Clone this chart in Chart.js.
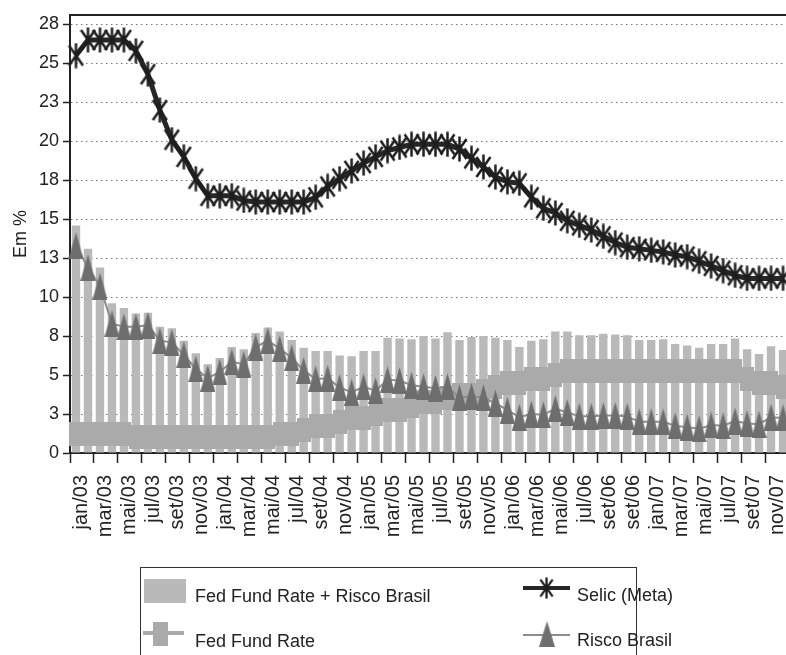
<!DOCTYPE html>
<html>
<head>
<meta charset="utf-8">
<script src="https://cdn.jsdelivr.net/npm/chart.js@4.4.1/dist/chart.umd.min.js"></script>
<style>
    html, body { margin: 0; padding: 0; background: #fff; }
    #wrap { width: 786px; height: 655px; overflow: hidden; position: relative; }
    canvas { display: block; }
</style>
</head>
<body>
<div id="wrap"><canvas id="myChart" width="800" height="655"></canvas></div>
<script>
// months jan/03 .. dez/07
const monthNames = ["jan", "fev", "mar", "abr", "mai", "jun", "jul", "ago", "set", "out", "nov", "dez"];
const years = ["03", "04", "05", "06", "07"];
const months = [];
years.forEach((y) => monthNames.forEach((m) => months.push(m + "/" + y)));

// labels printed under the axis (one per two months, as in the original)
const tickLabels = [
    "jan/03", "mar/03", "mai/03", "jul/03", "set/03", "nov/03",
    "jan/04", "mar/04", "mai/04", "jul/04", "set/04", "nov/04",
    "jan/05", "mar/05", "mai/05", "jul/05", "set/05", "nov/05",
    "jan/06", "mar/06", "mai/06", "jul/06", "set/06", "set/06",
    "jan/07", "mar/07", "mai/07", "jul/07", "set/07", "nov/07",
];

const yTicks = [0, 2.5, 5, 7.5, 10, 12.5, 15, 17.5, 20, 22.5, 25, 27.5];

const selic = [
    25.5, 26.5, 26.5, 26.5, 26.5, 25.8, 24.3, 22.0, 20.1, 19.0, 17.6, 16.5,
    16.5, 16.5, 16.2, 16.1, 16.1, 16.1, 16.1, 16.1, 16.4, 17.1, 17.6, 18.1,
    18.6, 19.0, 19.4, 19.6, 19.8, 19.8, 19.8, 19.8, 19.5, 18.9, 18.35, 17.7,
    17.4, 17.3, 16.4, 15.7, 15.4, 14.9, 14.6, 14.3, 13.9, 13.5, 13.2, 13.1,
    13.0, 12.9, 12.7, 12.6, 12.3, 12.0, 11.7, 11.4, 11.2, 11.2, 11.2, 11.2,
];

const fedFundRate = [
    1.25, 1.25, 1.25, 1.25, 1.25, 1.0, 1.0, 1.0, 1.0, 1.0, 1.0, 1.0,
    1.0, 1.0, 1.0, 1.0, 1.0, 1.25, 1.25, 1.5, 1.75, 1.75, 2.0, 2.25,
    2.25, 2.5, 2.75, 2.75, 3.0, 3.25, 3.25, 3.5, 3.75, 3.75, 4.0, 4.25,
    4.5, 4.5, 4.75, 4.75, 5.0, 5.25, 5.25, 5.25, 5.25, 5.25, 5.25, 5.25,
    5.25, 5.25, 5.25, 5.25, 5.25, 5.25, 5.25, 5.25, 4.75, 4.5, 4.5, 4.25,
];

const riscoBrasil = [
    13.3, 11.9, 10.7, 8.3, 8.1, 8.1, 8.2, 7.2, 7.1, 6.3, 5.4, 4.8,
    5.2, 5.85, 5.7, 6.8, 7.2, 6.7, 6.1, 5.3, 4.75, 4.8, 4.2, 3.9,
    4.25, 4.0, 4.7, 4.65, 4.35, 4.25, 4.15, 4.25, 3.55, 3.65, 3.55, 3.2,
    2.75, 2.3, 2.5, 2.45, 2.85, 2.6, 2.35, 2.35, 2.4, 2.4, 2.35, 2.0,
    2.0, 2.0, 1.75, 1.65, 1.55, 1.8, 1.75, 2.05, 1.9, 1.85, 2.3, 2.25,
];

const fedMaisRisco = [
    14.6, 13.1, 11.9, 9.6, 9.3, 8.95, 9.0, 8.1, 8.0, 7.2, 6.4, 5.7,
    6.1, 6.8, 6.65, 7.7, 8.05, 7.8, 7.25, 6.75, 6.55, 6.55, 6.25, 6.2,
    6.55, 6.55, 7.4, 7.35, 7.3, 7.5, 7.35, 7.75, 7.25, 7.45, 7.5, 7.4,
    7.25, 6.8, 7.2, 7.3, 7.8, 7.8, 7.55, 7.55, 7.65, 7.6, 7.55, 7.25,
    7.25, 7.3, 7.0, 6.9, 6.75, 7.0, 7.0, 7.35, 6.65, 6.35, 6.85, 6.6,
];

const FONT = "'Liberation Sans', Arial, sans-serif";
const INK = "#222222";
const BAR_GREY = "#b9b9b9";
const FED_GREY = "#aaaaaa";
const RISCO_GREY = "#6e6e6e";

Chart.defaults.font.family = FONT;
Chart.defaults.color = INK;

// marker images
function makeMarker(w, h, drawFn) {
    const c = document.createElement("canvas");
    c.width = w;
    c.height = h;
    drawFn(c.getContext("2d"), w, h);
    return c;
}

const starMarker = makeMarker(17, 26, (g, w, h) => {
    g.strokeStyle = "#1e1e1e";
    g.lineWidth = 2.5;
    g.beginPath();
    g.moveTo(w / 2, 0.5);
    g.lineTo(w / 2, h - 0.5);
    g.moveTo(1.5, 3);
    g.lineTo(w - 1.5, h - 3);
    g.moveTo(w - 1.5, 3);
    g.lineTo(1.5, h - 3);
    g.stroke();
});

const triMarker = makeMarker(15, 27, (g, w, h) => {
    g.fillStyle = RISCO_GREY;
    g.beginPath();
    g.moveTo(w / 2, 0);
    g.lineTo(w, h);
    g.lineTo(0, h);
    g.closePath();
    g.fill();
});

const fedMarker = makeMarker(14, 24, (g, w, h) => {
    g.fillStyle = FED_GREY;
    g.fillRect(0, 0, w, h);
});

// top frame line + boxed legend in two columns
const frameAndLegend = {
    id: "frameAndLegend",
    afterDraw(chart) {
        const g = chart.ctx;
        const a = chart.chartArea;
        g.save();
        g.strokeStyle = INK;
        g.lineWidth = 2;
        g.beginPath();
        g.moveTo(a.left, a.top);
        g.lineTo(a.right, a.top);
        g.stroke();

        g.strokeStyle = "#333";
        g.lineWidth = 1;
        g.strokeRect(140.5, 567.5, 496, 120);

        g.font = "18px " + FONT;
        g.fillStyle = INK;
        g.textBaseline = "middle";
        g.textAlign = "left";

        // Fed Fund Rate + Risco Brasil
        g.fillStyle = BAR_GREY;
        g.fillRect(144, 579, 42, 24);
        g.fillStyle = INK;
        g.fillText("Fed Fund Rate + Risco Brasil", 195, 597);

        // Fed Fund Rate
        g.strokeStyle = FED_GREY;
        g.lineWidth = 4;
        g.beginPath();
        g.moveTo(143, 633);
        g.lineTo(184, 633);
        g.stroke();
        g.drawImage(fedMarker, 153, 622, 15, 24);
        g.fillText("Fed Fund Rate", 195, 642);

        // Selic (Meta)
        g.strokeStyle = "#262626";
        g.lineWidth = 4;
        g.beginPath();
        g.moveTo(523, 588);
        g.lineTo(570, 588);
        g.stroke();
        g.drawImage(starMarker, 539, 577, 15, 22);
        g.fillText("Selic (Meta)", 577, 596);

        // Risco Brasil
        g.strokeStyle = "#8c8c8c";
        g.lineWidth = 2;
        g.beginPath();
        g.moveTo(523, 635);
        g.lineTo(570, 635);
        g.stroke();
        g.drawImage(triMarker, 539, 621, 16, 26);
        g.fillText("Risco Brasil", 577, 641);
        g.restore();
    },
};

const ctx = document.getElementById("myChart");

new Chart(ctx, {
    data: {
        labels: months,
        datasets: [
            {
                type: "bar",
                label: "Fed Fund Rate + Risco Brasil",
                data: fedMaisRisco,
                backgroundColor: BAR_GREY,
                barPercentage: 0.7,
                categoryPercentage: 1,
                order: 4,
            },
            {
                type: "line",
                label: "Fed Fund Rate",
                data: fedFundRate,
                borderColor: FED_GREY,
                borderWidth: 6,
                pointStyle: fedMarker,
                pointRadius: 5,
                order: 3,
            },
            {
                type: "line",
                label: "Risco Brasil",
                data: riscoBrasil,
                borderColor: "#8c8c8c",
                borderWidth: 2,
                pointStyle: triMarker,
                pointRadius: 5,
                order: 2,
            },
            {
                type: "line",
                label: "Selic (Meta)",
                data: selic,
                borderColor: "#262626",
                borderWidth: 5,
                pointStyle: starMarker,
                pointRadius: 5,
                order: 1,
            },
        ],
    },
    options: {
        responsive: false,
        animation: false,
        layout: { padding: { top: 15, right: 8, left: 0, bottom: 0 } },
        plugins: {
            legend: { display: false },
            tooltip: { enabled: false },
        },
        scales: {
            x: {
                display: false,
                offset: true,
            },
            x2: {
                type: "category",
                labels: tickLabels,
                position: "bottom",
                offset: true,
                grid: {
                    offset: true,
                    drawOnChartArea: false,
                    tickLength: 10,
                    tickColor: INK,
                    tickWidth: 1.5,
                },
                border: { color: INK, width: 2 },
                ticks: {
                    autoSkip: false,
                    minRotation: 90,
                    maxRotation: 90,
                    padding: 12,
                    color: INK,
                    font: { size: 20 },
                },
                afterFit: (s) => {
                    s.height = 202;
                    s.paddingLeft = 0;
                    s.paddingRight = 0;
                },
            },
            y: {
                min: 0,
                max: 28.1,
                afterBuildTicks: (s) => {
                    s.ticks = yTicks.map((v) => ({ value: v }));
                },
                afterFit: (s) => {
                    s.width = 70;
                },
                grid: {
                    color: "#777",
                    lineWidth: 1,
                    tickLength: 7,
                    tickColor: INK,
                    tickWidth: 1.5,
                    tickBorderDash: [],
                },
                border: { color: INK, width: 2, dash: [1.5, 3.5] },
                ticks: {
                    color: INK,
                    padding: 4,
                    font: { size: 18 },
                    callback: (v) => Math.round(v),
                },
                title: {
                    display: true,
                    text: "Em %",
                    color: INK,
                    font: { size: 18 },
                    padding: { top: 10, bottom: 0 },
                },
            },
        },
    },
    plugins: [frameAndLegend],
});
</script>
</body>
</html>
